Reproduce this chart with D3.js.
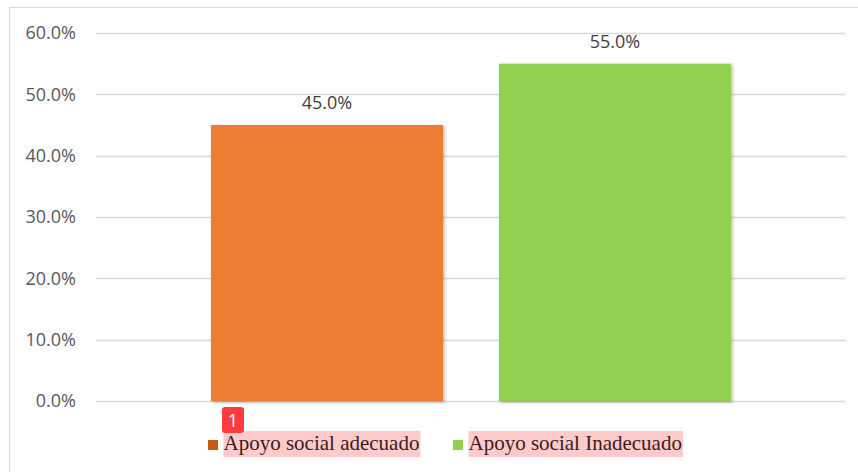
<!DOCTYPE html>
<html><head><meta charset="utf-8">
<script src="https://cdn.jsdelivr.net/npm/d3@7"></script>
<style>html,body{margin:0;padding:0;background:#fff;overflow:hidden}</style>
</head><body>
<svg id="c" width="858" height="472"></svg>
<script>
const categories = ["Apoyo social adecuado", "Apoyo social Inadecuado"];
const values = [0.45, 0.55];
const colors = ["#ed7d31", "#92d050"];
const legendColors = ["#c55a11", "#92d050"];
const yTicks = [0, 0.1, 0.2, 0.3, 0.4, 0.5, 0.6];

const svg = d3.select("#c");
const defs = svg.append("defs");
const f = defs.append("filter").attr("id","sh").attr("x","-10%").attr("y","-10%").attr("width","130%").attr("height","130%");
f.append("feDropShadow").attr("dx",1.5).attr("dy",1.5).attr("stdDeviation",1.5).attr("flood-color","#000").attr("flood-opacity",0.3);

// outer border
svg.append("rect").attr("x",9.5).attr("y",7.5).attr("width",900).attr("height",500)
  .attr("fill","none").attr("stroke","#d9d9d9").attr("stroke-width",1);

const x = d3.scaleBand().domain(categories).range([96, 846]).paddingInner(0.194).paddingOuter(0.399);
const y = d3.scaleLinear().domain([0, 0.6]).range([401, 33]);
const fmt = d3.format(".1%");

// grid
svg.append("g").selectAll("line").data(yTicks).join("line")
  .attr("x1",96).attr("x2",846).attr("y1",d=>Math.round(y(d))+0.5).attr("y2",d=>Math.round(y(d))+0.5)
  .attr("stroke","#d9d9d9").attr("stroke-width",1.3);

// y axis labels
const yAxis = d3.axisLeft(y).tickValues(yTicks).tickFormat(fmt).tickSize(0).tickPadding(0);
const ga = svg.append("g").attr("transform","translate(76,0)").call(yAxis);
ga.select(".domain").remove();
ga.selectAll("text").attr("font-family","'Open Sans', sans-serif").attr("font-size","18px").attr("fill","#595959");

// bars
svg.append("g").selectAll("rect").data(values).join("rect")
  .attr("x",(d,i)=>x(categories[i])).attr("width",x.bandwidth())
  .attr("y",d=>y(d)).attr("height",d=>y(0)-y(d))
  .attr("fill",(d,i)=>colors[i]).attr("filter","url(#sh)");

// value labels
svg.append("g").selectAll("text").data(values).join("text")
  .attr("x",(d,i)=>x(categories[i])+x.bandwidth()/2).attr("y",d=>y(d)-16)
  .attr("text-anchor","middle").attr("font-family","'Open Sans', sans-serif").attr("font-size","18px")
  .attr("fill","#404040").text(d=>fmt(d));

// legend
const legendX = [208, 453];
const lg = svg.append("g");
categories.forEach((c,i)=>{
  const g = lg.append("g");
  g.append("rect").attr("x",legendX[i]).attr("y",440).attr("width",10).attr("height",10).attr("fill",legendColors[i]);
  const t = g.append("text").attr("x",legendX[i]+15.5).attr("y",450)
    .attr("font-family","'Liberation Serif', 'Times New Roman', serif").attr("font-size","21px")
    .attr("fill","#3a1c1c").text(c);
  const bb = t.node().getBBox();
  g.insert("rect","text").attr("x",bb.x).attr("y",431).attr("width",bb.width+1).attr("height",26).attr("fill","#ffcaca");
});

// annotation badge
const b = svg.append("g");
b.append("rect").attr("x",222).attr("y",407).attr("width",22).attr("height",26).attr("rx",3).attr("fill","#ff3b3b");
b.append("text").attr("x",233).attr("y",427).attr("text-anchor","middle").attr("font-family","'Open Sans', sans-serif")
  .attr("font-size","18px").attr("fill","#fff").text("1");
</script>
</body></html>
